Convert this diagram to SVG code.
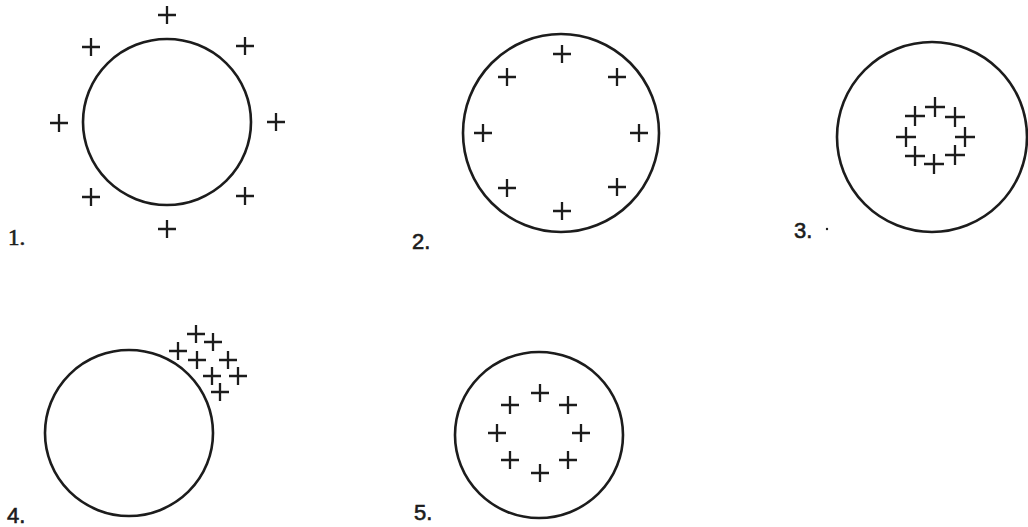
<svg xmlns="http://www.w3.org/2000/svg" xmlns:xlink="http://www.w3.org/1999/xlink" width="1028" height="527" viewBox="0 0 1028 527">
<style>
.ring{fill:none;stroke:#1c1c1c;stroke-width:2.6}
.p{stroke:#1c1c1c;stroke-width:2.3;fill:none}
.lbl{font-family:"Liberation Sans",Arial,sans-serif;font-size:22px;fill:#1c1c1c;stroke:#1c1c1c;stroke-width:0.6}
.lbls{font-family:"Liberation Serif","Times New Roman",serif;font-size:23px;fill:#1c1c1c;stroke:#1c1c1c;stroke-width:0.6}
</style>
<defs>
<path id="plus" class="p" d="M-9 0H9M0 -9V9"/>
<path id="plusL" class="p" d="M-10 0H10M0 -10V10"/>
</defs>
<rect width="1028" height="527" fill="#ffffff"/>
<g id="panel1">
<ellipse class="ring" cx="167" cy="122" rx="84" ry="83"/>
<use href="#plus" x="167" y="15"/>
<use href="#plus" x="91" y="47"/>
<use href="#plus" x="245" y="46"/>
<use href="#plus" x="59" y="123"/>
<use href="#plus" x="276" y="122"/>
<use href="#plus" x="91" y="197"/>
<use href="#plus" x="245" y="196"/>
<use href="#plus" x="167" y="229"/>
<text class="lbls" x="8" y="245">1.</text>
</g>
<g id="panel2">
<ellipse class="ring" cx="561" cy="133" rx="98" ry="99"/>
<use href="#plus" x="562" y="54"/>
<use href="#plus" x="507" y="77"/>
<use href="#plus" x="617" y="77"/>
<use href="#plus" x="483" y="133"/>
<use href="#plus" x="639" y="133"/>
<use href="#plus" x="507" y="188"/>
<use href="#plus" x="617" y="187"/>
<use href="#plus" x="562" y="211"/>
<text class="lbl" x="412" y="249">2.</text>
</g>
<g id="panel3">
<ellipse class="ring" cx="932" cy="137" rx="95" ry="95"/>
<use href="#plusL" x="935" y="107"/>
<use href="#plusL" x="915" y="116"/>
<use href="#plusL" x="955" y="117"/>
<use href="#plusL" x="906" y="137"/>
<use href="#plusL" x="965" y="137"/>
<use href="#plusL" x="915" y="156"/>
<use href="#plusL" x="955" y="155"/>
<use href="#plusL" x="934" y="164"/>
<text class="lbl" x="794" y="238">3.</text>
<circle cx="827" cy="229" r="1.2" fill="#1c1c1c"/>
</g>
<g id="panel4">
<ellipse class="ring" cx="129" cy="433" rx="84" ry="83"/>
<use href="#plus" x="196" y="334"/>
<use href="#plus" x="213" y="342"/>
<use href="#plus" x="178" y="351"/>
<use href="#plus" x="197" y="360"/>
<use href="#plus" x="228" y="360"/>
<use href="#plus" x="212" y="376"/>
<use href="#plus" x="238" y="376"/>
<use href="#plus" x="220" y="392"/>
<text class="lbl" x="7" y="523">4.</text>
</g>
<g id="panel5">
<ellipse class="ring" cx="539" cy="435" rx="84" ry="83"/>
<use href="#plus" x="540" y="393"/>
<use href="#plus" x="510" y="405"/>
<use href="#plus" x="568" y="405"/>
<use href="#plus" x="497" y="433"/>
<use href="#plus" x="581" y="433"/>
<use href="#plus" x="510" y="460"/>
<use href="#plus" x="568" y="460"/>
<use href="#plus" x="540" y="473"/>
<text class="lbl" x="414" y="520">5.</text>
</g>
<g id="connectors"/>
</svg>
